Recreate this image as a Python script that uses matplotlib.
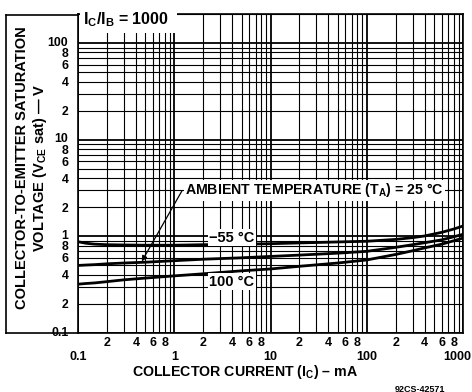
import matplotlib
matplotlib.use("Agg")
import matplotlib.pyplot as plt
from matplotlib.ticker import FixedLocator, FixedFormatter
from matplotlib.lines import Line2D
from matplotlib.patches import Rectangle
from matplotlib.transforms import ScaledTranslation

plt.rcParams['font.family'] = ['Liberation Sans', 'DejaVu Sans']
plt.rcParams['font.weight'] = 'bold'
plt.rcParams['axes.labelweight'] = 'bold'
plt.rcParams['mathtext.fontset'] = 'custom'
plt.rcParams['mathtext.rm'] = 'Liberation Sans:bold'
plt.rcParams['mathtext.bf'] = 'Liberation Sans:bold'
plt.rcParams['mathtext.it'] = 'Liberation Sans:bold'
plt.rcParams['mathtext.default'] = 'bf'

# Collector current (mA) and saturation voltage (V) for each ambient temperature
current_ma = [0.1, 0.12, 0.15, 0.2, 0.3, 0.5, 1, 2, 5, 10, 20, 50, 100, 200, 300, 400, 600, 800, 1000]
vsat_m55 = [0.88, 0.85, 0.83, 0.82, 0.815, 0.81, 0.81, 0.82, 0.83, 0.84, 0.855, 0.875, 0.89, 0.93, 0.97, 1.01, 1.10, 1.19, 1.28]
vsat_25 = [0.50, 0.505, 0.51, 0.52, 0.53, 0.54, 0.56, 0.58, 0.60, 0.62, 0.64, 0.67, 0.70, 0.77, 0.82, 0.86, 0.92, 0.99, 1.05]
vsat_100 = [0.32, 0.325, 0.33, 0.34, 0.355, 0.37, 0.39, 0.41, 0.44, 0.46, 0.49, 0.53, 0.57, 0.65, 0.71, 0.76, 0.83, 0.90, 0.96]

x_major = [0.1, 1, 10, 100, 1000]
x_major_labels = ["0.1", "1", "10", "100", "1000"]
y_major = [0.1, 1, 10, 100]
y_major_labels = ["0.1", "1", "10", "100"]
mantissas = [2, 3, 4, 5, 6, 7, 8, 9]
labelled_mantissas = [2, 4, 6, 8]

W, H = 472, 392
fig = plt.figure(figsize=(W / 100, H / 100), dpi=100)
ax = fig.add_axes([78 / W, 1 - 333 / H, 385 / W, 319 / H])
ax.set_xscale('log')
ax.set_yscale('log')
ax.set_xlim(0.1, 1000)
ax.set_ylim(0.1, 200)

def minor_positions(decades):
    return [d * m for d in decades for m in mantissas]

def minor_labels(decades, top=None):
    return [str(m) if (m in labelled_mantissas and (top is None or d * m < top)) else ""
            for d in decades for m in mantissas]

x_dec = [0.1, 1, 10, 100]
y_dec = [0.1, 1, 10, 100]
ax.xaxis.set_major_locator(FixedLocator(x_major))
ax.xaxis.set_major_formatter(FixedFormatter(x_major_labels))
ax.xaxis.set_minor_locator(FixedLocator(minor_positions(x_dec)))
ax.xaxis.set_minor_formatter(FixedFormatter(minor_labels(x_dec)))
ypos = [v for v in minor_positions(y_dec) if v <= 200]
ylab = [l for v, l in zip(minor_positions(y_dec), minor_labels(y_dec, top=150)) if v <= 200]
ax.yaxis.set_major_locator(FixedLocator(y_major))
ax.yaxis.set_major_formatter(FixedFormatter(y_major_labels))
ax.yaxis.set_minor_locator(FixedLocator(ypos))
ax.yaxis.set_minor_formatter(FixedFormatter(ylab))

ax.tick_params(which='both', length=0, labelsize=9)
ax.tick_params(axis='y', which='both', labelsize=8.8, pad=7)
ax.tick_params(axis='x', which='minor', pad=3)
ax.tick_params(axis='x', which='major', pad=13)

# nudge label positions: last x decade in from the edge, y decades slightly up
fig.canvas.draw()
last = ax.xaxis.get_majorticklabels()[-1]
last.set_transform(last.get_transform() + ScaledTranslation(-6 / 100, 0, fig.dpi_scale_trans))
for lab in ax.yaxis.get_majorticklabels():
    lab.set_transform(lab.get_transform() + ScaledTranslation(0, 2 / 100, fig.dpi_scale_trans))

ax.grid(which='major', color='black', linewidth=1.3)
ax.grid(which='minor', color='black', linewidth=0.8)
ax.set_axisbelow(True)
for s in ax.spines.values():
    s.set_linewidth(1.2)

lw = 2.0
ax.plot(current_ma, vsat_m55, color='black', lw=lw, zorder=3)
ax.plot(current_ma, vsat_25, color='black', lw=lw, zorder=3)
ax.plot(current_ma, vsat_100, color='black', lw=lw, zorder=3)

white = dict(facecolor='white', edgecolor='none', pad=1)
ax.text(2.3, 0.97, '−55 °C', fontsize=10.5, ha='left', va='center', bbox=white, zorder=4)
ax.text(2.3, 0.34, '100 °C', fontsize=10.5, ha='left', va='center', bbox=white, zorder=4)
ax.text(1.3, 3.0, 'AMBIENT TEMPERATURE (T$_A$) = 25 °C', fontsize=10.2,
        ha='left', va='center', bbox=white, zorder=4)
ax.annotate('', xy=(0.46, 0.55), xytext=(1.2, 2.95),
            arrowprops=dict(arrowstyle='-|>', color='black', lw=0.9,
                            shrinkA=0, shrinkB=0, mutation_scale=8), zorder=4)

# ratio label sits over the top edge of the frame
ax.add_patch(Rectangle((0.004, 0.94), 0.253, 0.08, transform=ax.transAxes,
                       facecolor='white', edgecolor='none', clip_on=False, zorder=5))
ax.text(0.014, 0.982, 'I$_C$/I$_B$ = 1000', transform=ax.transAxes, fontsize=11.5,
        ha='left', va='center', zorder=6)

ax.set_xlabel('COLLECTOR CURRENT (I$_C$) – mA', fontsize=10.2, labelpad=1)
ax.xaxis.set_label_coords((245 - 78) / 385, -(372 - 333) / 319)
ax.xaxis.label.set_va('center')

fig.text(22 / W, 1 - 168 / H, 'COLLECTOR-TO-EMITTER SATURATION', rotation=90,
         ha='center', va='center', fontsize=10.5)
fig.text(40 / W, 1 - 168 / H, 'VOLTAGE (V$_{CE}$ sat) — V', rotation=90,
         ha='center', va='center', fontsize=10.5)

# outer frame around the vertical scale
x0, xa = 6 / W, 78 / W
yt, yb = 1 - 15 / H, 1 - 333 / H
fig.add_artist(Line2D([x0, x0], [yb, yt], color='black', lw=1.2))
fig.add_artist(Line2D([x0, xa], [yt, yt], color='black', lw=1.2))
fig.add_artist(Line2D([x0, xa], [yb, yb], color='black', lw=1.2))

fig.text(420 / W, 1 - 389 / H, '92CS-42571', ha='center', va='center', fontsize=6.5)

fig.savefig('out.png', dpi=100)
